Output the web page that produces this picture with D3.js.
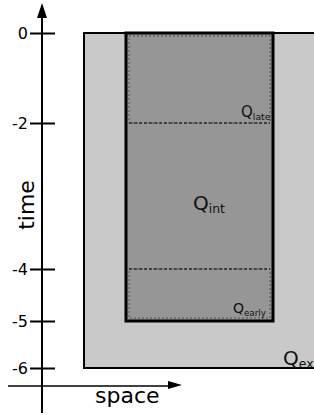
<!DOCTYPE html>
<html>
<head>
<meta charset="utf-8">
<script src="https://cdn.jsdelivr.net/npm/d3@7"></script>
<style>
  body { margin: 0; background: #fff; }
  svg { display: block; font-family: "DejaVu Sans", sans-serif; }
</style>
</head>
<body>
<svg id="chart" width="314" height="415"></svg>
<script>
// time ticks on the vertical axis (the scale is schematic, not linear)
const time_ticks = [0, -2, -4, -5, -6];
const time_pos = [33, 123, 269, 321, 368];

// space extent of the domains
const ext_space = [1, 7];
const int_space = [2, 5.5];
// time extent of the domains
const ext_time = [0, -6];
const int_time = [0, -5];
const late_time = [0, -2];
const early_time = [-4, -5];

const svg = d3.select("#chart");

const x = d3.scaleLinear().domain([0, 7]).range([42, 336]);
const y = d3.scaleLinear().domain(time_ticks).range(time_pos);

// outer domain Q_ext
svg.append("rect")
    .attr("x", x(ext_space[0]))
    .attr("y", y(ext_time[0]))
    .attr("width", x(ext_space[1]) - x(ext_space[0]))
    .attr("height", y(ext_time[1]) - y(ext_time[0]))
    .attr("fill", "#c9c9c9")
    .attr("stroke", "black")
    .attr("stroke-width", 2);

// interior domain Q_int
svg.append("rect")
    .attr("x", x(int_space[0]))
    .attr("y", y(int_time[0]))
    .attr("width", x(int_space[1]) - x(int_space[0]))
    .attr("height", y(int_time[1]) - y(int_time[0]))
    .attr("fill", "#969696")
    .attr("stroke", "black")
    .attr("stroke-width", 3);

// late / early sub windows
const inset = 3;
for (const win of [late_time, early_time]){
    const top = y(win[0]), bot = y(win[1]);
    const left = x(int_space[0]) + inset, right = x(int_space[1]) - inset;
    svg.append("rect")
        .attr("x", left)
        .attr("y", win[0] === 0 ? top + inset : top)
        .attr("width", right - left)
        .attr("height", bot - top - inset)
        .attr("fill", "none")
        .attr("stroke", "#555")
        .attr("stroke-width", 1)
        .attr("stroke-dasharray", "2,2");
}
// dashed boundaries inside Q_int
for (const t of [late_time[1], early_time[0]]){
    svg.append("line")
        .attr("x1", x(int_space[0]) + inset)
        .attr("x2", x(int_space[1]) - inset)
        .attr("y1", y(t))
        .attr("y2", y(t))
        .attr("stroke", "black")
        .attr("stroke-width", 1)
        .attr("stroke-dasharray", "3,2");
}

// labels
function q_label(sub, px, py, size){
    const t = svg.append("text")
        .attr("x", px)
        .attr("y", py)
        .attr("font-size", size)
        .attr("fill", "#111");
    t.append("tspan").text("Q");
    t.append("tspan").attr("font-size", size * 0.62).attr("dy", 3).text(sub);
}
q_label("late", 241, y(late_time[1]) - 6, 15);
q_label("int", 193, 210, 20);
q_label("early", 233, y(early_time[1]) - 8, 14);
q_label("ext", 283, y(ext_time[1]) - 3, 20);

// vertical time axis
const axis_x = x(0);
const y_axis = svg.append("g")
    .attr("transform", "translate(" + axis_x + ",0)")
    .call(d3.axisLeft(y).tickValues(time_ticks).tickSize(12).tickFormat(d => String(d)));
y_axis.select(".domain").remove();
y_axis.selectAll(".tick line")
    .attr("x1", 13)
    .attr("x2", -12)
    .attr("stroke", "black")
    .attr("stroke-width", 2);
y_axis.selectAll(".tick text")
    .attr("x", -14)
    .attr("font-size", 16)
    .attr("font-family", "DejaVu Sans")
    .attr("fill", "black");

svg.append("line")
    .attr("x1", axis_x).attr("x2", axis_x)
    .attr("y1", 14).attr("y2", 413)
    .attr("stroke", "black")
    .attr("stroke-width", 2);
svg.append("path")
    .attr("d", "M" + axis_x + ",3 L" + (axis_x - 5) + ",18 L" + (axis_x + 5) + ",18 Z")
    .attr("fill", "black");

// horizontal space axis
const axis_y = 386;
svg.append("line")
    .attr("x1", 8).attr("x2", 172)
    .attr("y1", axis_y).attr("y2", axis_y)
    .attr("stroke", "black")
    .attr("stroke-width", 1.5);
svg.append("path")
    .attr("d", "M182," + (axis_y - 1) + " L168," + (axis_y - 5) + " L168," + (axis_y + 3) + " Z")
    .attr("fill", "black");

svg.append("text")
    .attr("x", 95)
    .attr("y", 403)
    .attr("font-size", 22)
    .text("space");

svg.append("text")
    .attr("transform", "translate(34,205) rotate(-90)")
    .attr("text-anchor", "middle")
    .attr("font-size", 22)
    .text("time");
</script>
</body>
</html>
